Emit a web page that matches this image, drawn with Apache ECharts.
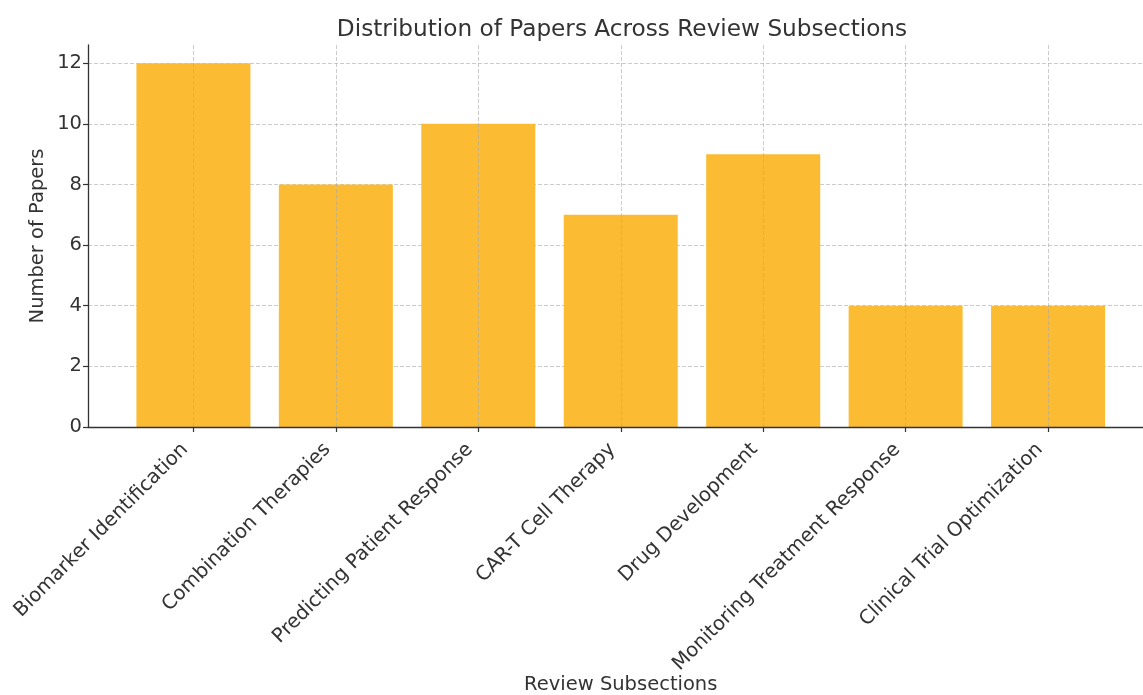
<!DOCTYPE html>
<html>
<head>
<meta charset="utf-8">
<script src="https://cdn.jsdelivr.net/npm/echarts@6/dist/echarts.min.js"></script>
<style>
html,body{margin:0;padding:0;background:#fff;}
#chart{width:1143px;height:695px;}
</style>
</head>
<body>
<div id="chart"></div>
<script>
const categories = ["Biomarker Identification","Combination Therapies","Predicting Patient Response","CAR-T Cell Therapy","Drug Development","Monitoring Treatment Response","Clinical Trial Optimization"];
const paperCounts = [12, 8, 10, 7, 9, 4, 4];
const yTicks = [0, 2, 4, 6, 8, 10, 12];
const xTicks = [0, 1, 2, 3, 4, 5, 6];

const FONT = "DejaVu Sans";
const TXT = "#333";
const chart = echarts.init(document.getElementById('chart'), null, {renderer: 'canvas'});
chart.setOption({
  backgroundColor: '#fff',
  animation: false,
  title: {
    text: 'Distribution of Papers Across Review Subsections',
    left: 617, top: 13, textAlign: 'center',
    textStyle: {fontFamily: FONT, fontSize: 23.2, fontWeight: 'normal', color: TXT}
  },
  grid: {left: 88, top: 45, width: 1065.5, height: 382, containLabel: false, outerBoundsMode: 'none'},
  xAxis: {
    type: 'value', min: -0.74, max: 6.74, z: 3,
    name: 'Review Subsections', nameLocation: 'middle', nameGap: 248, nameMoveOverlap: false,
    nameTextStyle: {fontFamily: FONT, fontSize: 19.5, color: TXT},
    axisLine: {show: true, onZero: false, lineStyle: {color: '#333', width: 1.3}},
    axisTick: {show: true, length: 5, customValues: xTicks, lineStyle: {color: '#333', width: 1.2}},
    axisLabel: {customValues: xTicks, rotate: 45, margin: 11, padding: [0, 12, 0, 0], fontFamily: FONT, fontSize: 19.7, color: TXT,
      formatter: v => categories[Math.round(v)] || ''},
    splitLine: {show: true, lineStyle: {color: 'rgba(170,170,170,0.6)', type: [4, 2], width: 1}}
  },
  yAxis: {
    type: 'value', min: 0, max: 12.6,
    name: 'Number of Papers', nameLocation: 'middle', nameGap: 40, nameMoveOverlap: false,
    nameTextStyle: {fontFamily: FONT, fontSize: 19.5, color: TXT},
    axisLine: {show: true, onZero: false, lineStyle: {color: '#333', width: 1.3}},
    axisTick: {show: true, length: 5, customValues: yTicks, lineStyle: {color: '#333', width: 1.2}},
    axisLabel: {customValues: yTicks, margin: 6, fontFamily: FONT, fontSize: 19.5, color: TXT},
    splitLine: {show: true, lineStyle: {color: 'rgba(170,170,170,0.6)', type: [4, 2], width: 1}}
  },
  series: [{
    type: 'bar',
    barWidth: 114,
    itemStyle: {color: '#FBBC33'},
    data: paperCounts.map((v, i) => [i, v])
  }]
});
</script>
</body>
</html>
